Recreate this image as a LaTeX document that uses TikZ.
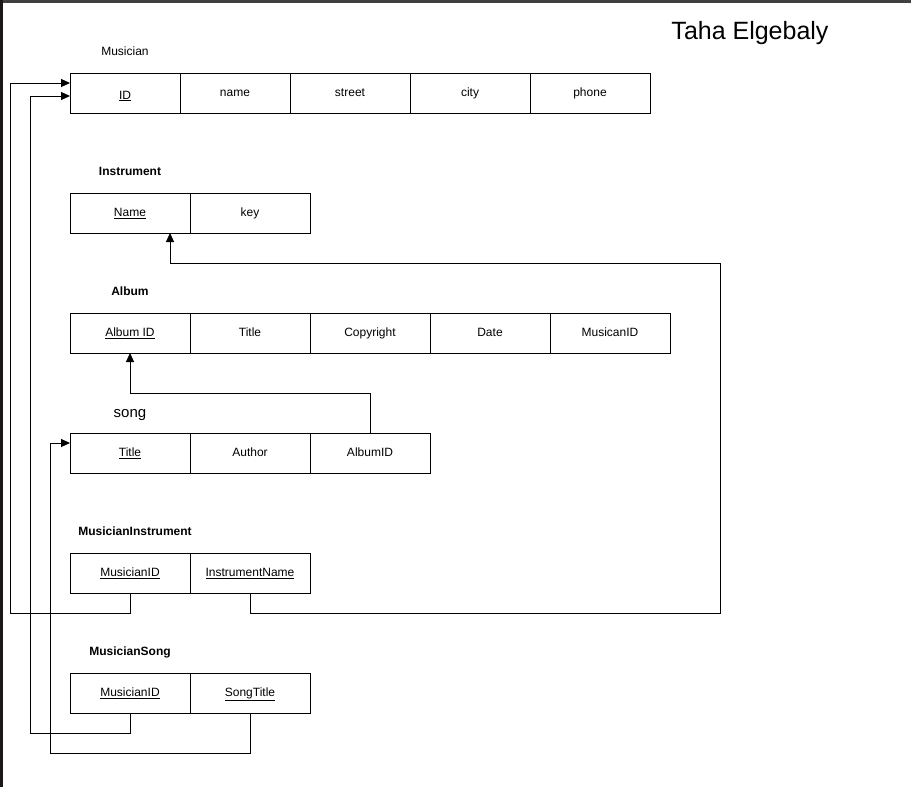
\documentclass[tikz,border=0pt]{standalone}
\usepackage{fontspec}
\setmainfont{Liberation Sans}
\usetikzlibrary{arrows.meta}
\definecolor{edgeL}{HTML}{1C161A}
\definecolor{edgeT}{HTML}{404040}
\tikzset{
  cell/.style={draw=black, line width=1pt, minimum height=40pt, inner sep=0pt, outer sep=0pt, text height=9pt, text depth=2.5pt, font=\fontsize{12}{14}\selectfont, anchor=north west},
  lbl/.style={inner sep=0pt, text height=9pt, text depth=2.5pt, font=\fontsize{12}{14}\selectfont},
  blbl/.style={lbl, font=\fontsize{12}{14}\selectfont\bfseries},
  conn/.style={draw=black, line width=1pt},
  arr/.style={conn, -{Triangle[length=9pt,width=8pt]}},
}
\begin{document}
\begin{tikzpicture}[x=1pt,y=-1pt]
\useasboundingbox (0,0) rectangle (911,787);
\fill[white] (0,0) rectangle (911,787);
\fill[edgeT] (0,0) rectangle (911,2.5);
\fill[edgeL] (0,0) rectangle (3,787);

% title
\node[inner sep=0pt, text height=18pt, text depth=5pt, font=\fontsize{25}{29}\selectfont] (title) at (750,33) {Taha Elgebaly};

% Musician
\node[lbl] (lMus) at (125,52) {Musician};
\node[cell, minimum width=110pt, text height=15pt, text depth=2.5pt] (mID) at (70,73) {\underline{ID}};
\node[cell, minimum width=110pt] (mName) at (180,73) {name};
\node[cell, minimum width=120pt] (mStreet) at (290,73) {street};
\node[cell, minimum width=120pt] (mCity) at (410,73) {city};
\node[cell, minimum width=120pt] (mPhone) at (530,73) {phone};

% Instrument
\node[blbl] (lIns) at (130,172) {Instrument};
\node[cell, minimum width=120pt] (iN) at (70,193) {\underline{Name}};
\node[cell, minimum width=120pt] (iK) at (190,193) {key};

% Album
\node[blbl] (lAlb) at (130,292) {Album};
\node[cell, minimum width=120pt] (aID) at (70,313) {\underline{Album ID}};
\node[cell, minimum width=120pt] (aT) at (190,313) {Title};
\node[cell, minimum width=120pt] (aC) at (310,313) {Copyright};
\node[cell, minimum width=120pt] (aD) at (430,313) {Date};
\node[cell, minimum width=120pt] (aM) at (550,313) {MusicanID};

% song
\node[inner sep=0pt, text height=11pt, text depth=3pt, font=\fontsize{15}{18}\selectfont] (lSong) at (130,413) {song};
\node[cell, minimum width=120pt] (sT) at (70,433) {\underline{Title}};
\node[cell, minimum width=120pt] (sAu) at (190,433) {Author};
\node[cell, minimum width=120pt] (sA) at (310,433) {AlbumID};

% MusicianInstrument
\node[blbl] (lMI) at (135,532) {MusicianInstrument};
\node[cell, minimum width=120pt] (miM) at (70,553) {\underline{MusicianID}};
\node[cell, minimum width=120pt] (miI) at (190,553) {\underline{InstrumentName}};

% MusicianSong
\node[blbl] (lMS) at (130,652) {MusicianSong};
\node[cell, minimum width=120pt] (msM) at (70,673) {\underline{MusicianID}};
\node[cell, minimum width=120pt] (msT) at (190,673) {\underline{SongTitle}};

% connectors
\draw[arr] (miM.south) -- ++(0,20) -- ++(-120,0) |- ([yshift=10pt]mID.west);
\draw[arr] (msM.south) -- ++(0,20) -- ++(-100,0) |- ([yshift=-3pt]mID.west);
\draw[arr] (msT.south) -- ++(0,40) -- ++(-200,0) |- ([yshift=10pt]sT.west);
\draw[arr] (miI.south) -- ++(0,20) -- ++(470,0) -- ++(0,-350) -| ([xshift=40pt]iN.south);
\draw[arr] (sA.north) -- ++(0,-40) -| (aID.south);
\end{tikzpicture}
\end{document}
